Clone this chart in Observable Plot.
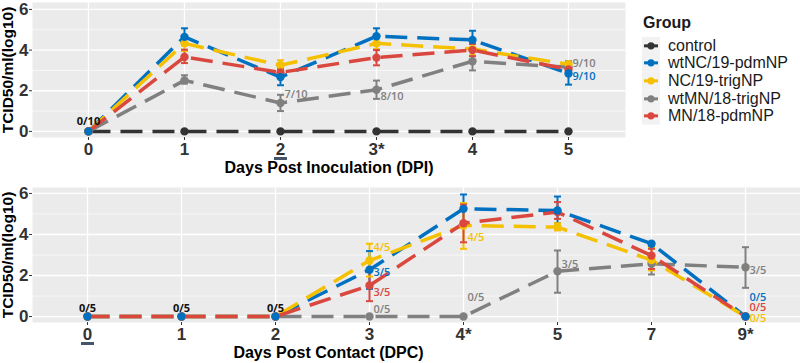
<!DOCTYPE html>
<html><head><meta charset="utf-8">
<script src="https://cdn.jsdelivr.net/npm/d3@7"></script>
<script src="https://cdn.jsdelivr.net/npm/@observablehq/plot@0.6"></script>
<style>
body{margin:0;background:#fff;}
#wrap{position:relative;width:800px;height:363px;overflow:hidden;font-family:"Liberation Sans",Arial,sans-serif;}
#top{position:absolute;left:0;top:0;}
#bottom{position:absolute;left:0;top:180px;}
#legtitle{position:absolute;left:643px;top:13px;font-size:16px;font-weight:bold;line-height:20px;color:#1a1a1a;}
#legend{position:absolute;left:642px;top:36.7px;}
.row{display:flex;align-items:center;height:17.7px;}
.row span{margin-left:8px;font-size:16px;line-height:17.7px;color:#1a1a1a;white-space:nowrap;}
</style></head><body><div id="wrap"><div id="top"></div><div id="bottom"></div><div id="legtitle">Group</div><div id="legend"></div></div>
<script>
// ---- groups ----
const groups = ["control", "wtNC/19-pdmNP", "NC/19-trigNP", "wtMN/18-trigNP", "MN/18-pdmNP"];
const colors = ["#333333", "#0070C0", "#F5C000", "#808080", "#D9473F"];
const yTicks = [0, 2, 4, 6];
const yMinorTicks = [1, 3, 5];

// ---- top panel: Days Post Inoculation ----
const dpiDays = [0, 1, 2, 3, 4, 5];
const dpiTickLabels = ["0", "1", "2", "3*", "4", "5"];
const dpiUnderlined = [2];
const dpiControl = [0, 0, 0, 0, 0, 0];
const dpiBlue = [0, 4.65, 2.67, 4.68, 4.5, 2.85];
const dpiBlueLo = [0, 4.25, 2.27, 4.28, 4.1, 2.3];
const dpiBlueHi = [0, 5.07, 3.0, 5.07, 4.95, 3.4];
const dpiYellow = [0, 4.33, 3.25, 4.33, 4.05, 3.3];
const dpiYellowLo = [0, 3.95, 3.0, 4.05, 3.75, 3.05];
const dpiYellowHi = [0, 4.65, 3.5, 4.57, 4.35, 3.45];
const dpiGray = [0, 2.51, 1.4, 2.05, 3.45, 3.15];
const dpiGrayLo = [0, 2.35, 1.0, 1.6, 3.0, 2.9];
const dpiGrayHi = [0, 2.76, 1.8, 2.5, 3.95, 3.45];
const dpiRed = [0, 3.66, 2.9, 3.63, 4.0, 3.05];
const dpiRedLo = [0, 3.36, 2.7, 3.25, 3.7, 2.8];
const dpiRedHi = [0, 4.02, 3.1, 4.0, 4.3, 3.25];
const dpiLabels = [
  {day: 0, y: 0.5, text: "0/10", group: "control"},
  {day: 2, y: 1.8, text: "7/10", group: "wtMN/18-trigNP"},
  {day: 3, y: 1.72, text: "8/10", group: "wtMN/18-trigNP"},
  {day: 5, y: 3.35, text: "9/10", group: "wtMN/18-trigNP"},
  {day: 5, y: 2.7, text: "9/10", group: "wtNC/19-pdmNP"}
];

// ---- bottom panel: Days Post Contact ----
const dpcDays = ["0", "1", "2", "3", "4*", "5", "7", "9*"];
const dpcUnderlined = ["0"];
const dpcBlue = [0, 0, 0, 2.28, 5.25, 5.17, 3.55, 0];
const dpcBlueLo = [0, 0, 0, 1.35, 4.55, 4.55, 3.45, 0];
const dpcBlueHi = [0, 0, 0, 3.19, 5.95, 5.85, 3.62, 0];
const dpcYellow = [0, 0, 0, 2.73, 4.44, 4.36, 2.75, 0];
const dpcYellowLo = [0, 0, 0, 1.95, 3.3, 4.2, 2.25, 0];
const dpcYellowHi = [0, 0, 0, 3.55, 5.53, 4.55, 3.35, 0];
const dpcGray = [0, 0, 0, 0, 0, 2.21, 2.57, 2.4];
const dpcGrayLo = [0, 0, 0, 0, 0, 1.16, 2.05, 1.4];
const dpcGrayHi = [0, 0, 0, 0, 0, 3.22, 3.06, 3.38];
const dpcRed = [0, 0, 0, 1.51, 4.55, 5.09, 2.97, 0];
const dpcRedLo = [0, 0, 0, 0.75, 3.62, 4.76, 2.32, 0];
const dpcRedHi = [0, 0, 0, 2.28, 5.46, 5.58, 3.3, 0];
const dpcLabels = [
  {day: "0", y: 0.41, text: "0/5", group: "control"},
  {day: "1", y: 0.41, text: "0/5", group: "control"},
  {day: "2", y: 0.41, text: "0/5", group: "control"},
  {day: "3", y: 3.37, text: "4/5", group: "NC/19-trigNP"},
  {day: "3", y: 2.16, text: "3/5", group: "wtNC/19-pdmNP"},
  {day: "3", y: 1.19, text: "3/5", group: "MN/18-pdmNP"},
  {day: "3", y: 0.34, text: "0/5", group: "wtMN/18-trigNP"},
  {day: "4*", y: 3.84, text: "4/5", group: "NC/19-trigNP"},
  {day: "4*", y: 0.91, text: "0/5", group: "wtMN/18-trigNP"},
  {day: "5", y: 2.54, text: "3/5", group: "wtMN/18-trigNP"},
  {day: "9*", y: 2.24, text: "3/5", group: "wtMN/18-trigNP"},
  {day: "9*", y: 0.95, text: "0/5", group: "wtNC/19-pdmNP"},
  {day: "9*", y: 0.43, text: "0/5", group: "MN/18-pdmNP"},
  {day: "9*", y: -0.07, text: "0/5", group: "NC/19-trigNP"}
];

// ---- build tables ----
function build(days, series) {
  const out = [];
  for (const [group, v, lo, hi] of series) {
    days.forEach((d, i) => out.push({day: d, group, v: v[i], lo: lo ? lo[i] : v[i], hi: hi ? hi[i] : v[i]}));
  }
  return out;
}
const dpiRows = build(dpiDays, [
  [groups[0], dpiControl],
  [groups[1], dpiBlue, dpiBlueLo, dpiBlueHi],
  [groups[2], dpiYellow, dpiYellowLo, dpiYellowHi],
  [groups[3], dpiGray, dpiGrayLo, dpiGrayHi],
  [groups[4], dpiRed, dpiRedLo, dpiRedHi]
]);
const dpcRows = build(dpcDays, [
  [groups[3], dpcGray, dpcGrayLo, dpcGrayHi],
  [groups[1], dpcBlue, dpcBlueLo, dpcBlueHi],
  [groups[2], dpcYellow, dpcYellowLo, dpcYellowHi],
  [groups[4], dpcRed, dpcRedLo, dpcRedHi]
]);
const pointOrder = ["control", "wtMN/18-trigNP", "NC/19-trigNP", "MN/18-pdmNP", "wtNC/19-pdmNP"];
const byPointOrder = rows => rows.slice().sort((a, b) => pointOrder.indexOf(a.group) - pointOrder.indexOf(b.group));

const hbar = {draw(ctx, size) { const w = Math.sqrt(size / Math.PI); ctx.moveTo(-w, 0); ctx.lineTo(w, 0); }};

function panelMarks(rows, labels, underlined, xTicks, xTitle, titleDx) {
  const errs = rows.filter(d => d.hi > d.lo);
  return [
    Plot.frame({fill: "#EBEBEB", stroke: null}),
    Plot.gridY({ticks: yMinorTicks, stroke: "white", strokeOpacity: 1, strokeWidth: 0.6}),
    Plot.gridY({ticks: yTicks, stroke: "white", strokeOpacity: 1, strokeWidth: 1.3}),
    Plot.gridX({ticks: xTicks, stroke: "white", strokeOpacity: 1, strokeWidth: 1.3}),
    Plot.line(rows, {x: "day", y: "v", z: "group", stroke: "group", strokeWidth: 3.5, strokeDasharray: "22,10", strokeLinecap: "butt"}),
    Plot.ruleX(errs, {x: "day", y1: "lo", y2: "hi", stroke: "group", strokeWidth: 2}),
    Plot.dot(errs, {x: "day", y: "lo", symbol: hbar, r: 3.5, stroke: "group", fill: "none", strokeWidth: 2}),
    Plot.dot(errs, {x: "day", y: "hi", symbol: hbar, r: 3.5, stroke: "group", fill: "none", strokeWidth: 2}),
    Plot.dot(byPointOrder(rows), {x: "day", y: "v", fill: "group", r: 4.2}),
    Plot.text(labels.filter(d => d.group === "control"), {x: "day", y: "y", text: "text", fill: "#111", textAnchor: "middle", fontSize: 11, fontWeight: 700, fontFamily: "Open Sans"}),
    Plot.text(labels.filter(d => d.group !== "control"), {x: "day", y: "y", text: "text", fill: "group", textAnchor: "start", dx: 4, fontSize: 11, fontWeight: 600, fontFamily: "Open Sans"}),
    Plot.dot(underlined, {x: d => d, frameAnchor: "bottom", dy: 21, symbol: hbar, r: 6.5, stroke: "#44546A", fill: "none", strokeWidth: 3}),
    Plot.text([xTitle], {text: d => d, frameAnchor: "bottom", dy: 30.5, dx: titleDx, textAnchor: "middle", fontSize: 16, fontWeight: "bold", fill: "#000", lineAnchor: "middle"}),
    Plot.text(["TCID50/ml(log10)"], {text: d => d, frameAnchor: "left", dx: -24, rotate: -90, textAnchor: "middle", fontSize: 15.5, fontWeight: "bold", fill: "#000", lineAnchor: "middle"})
  ];
}

const style = {fontFamily: "'Liberation Sans', Arial, sans-serif", background: "transparent", color: "#333", overflow: "visible"};

const topPlot = Plot.plot({
  width: 630, height: 180,
  marginLeft: 32, marginRight: 5, marginTop: 2, marginBottom: 43,
  style,
  x: {domain: [-0.583, 5.594]},
  y: {domain: [-0.3, 6.34]},
  color: {domain: groups, range: colors},
  marks: [
    ...panelMarks(dpiRows, dpiLabels, dpiUnderlined, dpiDays, "Days Post Inoculation (DPI)", 0),
    Plot.axisX({ticks: dpiDays, tickFormat: d => dpiTickLabels[dpiDays.indexOf(d)], tickSize: 3, tickPadding: 2, fontSize: 17, fontWeight: "bold", label: null}),
    Plot.axisY({ticks: yTicks, tickFormat: d => String(d), tickSize: 3, tickPadding: 1, fontSize: 17, fontWeight: "bold", label: null})
  ]
});
document.getElementById("top").appendChild(topPlot);

const bottomPlot = Plot.plot({
  width: 800, height: 183,
  marginLeft: 32, marginRight: 0, marginTop: 7, marginBottom: 41,
  style,
  x: {type: "point", domain: dpcDays, padding: 0.584},
  y: {domain: [-0.29, 6.29]},
  color: {domain: groups, range: colors},
  marks: [
    ...panelMarks(dpcRows, dpcLabels, dpcUnderlined, dpcDays, "Days Post Contact (DPC)", -88),
    Plot.axisX({tickSize: 3, tickPadding: 2, fontSize: 17, fontWeight: "bold", label: null}),
    Plot.axisY({ticks: yTicks, tickFormat: d => String(d), tickSize: 3, tickPadding: 1, fontSize: 17, fontWeight: "bold", label: null})
  ]
});
document.getElementById("bottom").appendChild(bottomPlot);

// ---- legend ----
const legend = document.getElementById("legend");
groups.forEach((g, i) => {
  const row = document.createElement("div");
  row.className = "row";
  row.innerHTML = `<svg width="18" height="17.7"><rect width="18" height="17.7" fill="#F2F2F2"/><line x1="2" x2="16" y1="8.85" y2="8.85" stroke="${colors[i]}" stroke-width="3"/><circle cx="9" cy="8.85" r="3.6" fill="${colors[i]}"/></svg><span>${g}</span>`;
  legend.appendChild(row);
});
</script>
</body></html>
